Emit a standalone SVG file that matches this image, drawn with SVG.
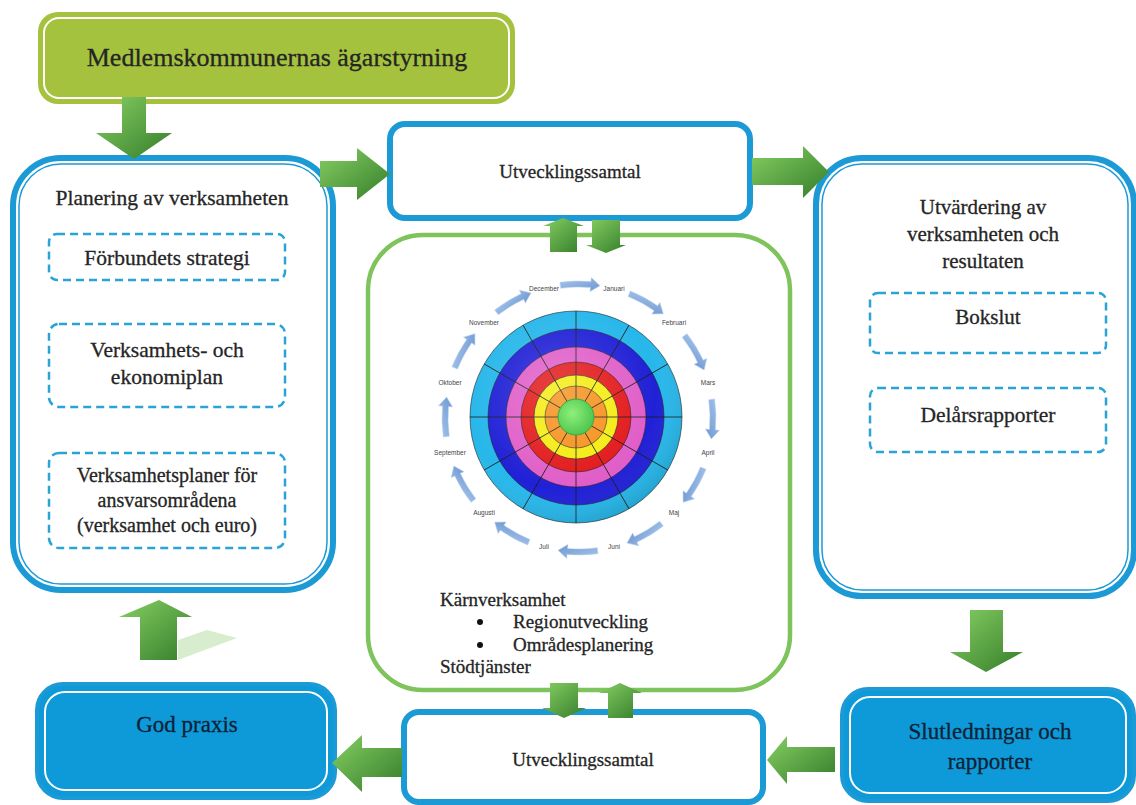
<svg xmlns="http://www.w3.org/2000/svg" width="1136" height="805" viewBox="0 0 1136 805">
<defs>
<linearGradient id="ga" x1="0" y1="0" x2="1" y2="1">
<stop offset="0" stop-color="#86cf63"/>
<stop offset="1" stop-color="#357d2a"/>
</linearGradient>
<linearGradient id="gm" x1="0" y1="0" x2="1" y2="1">
<stop offset="0" stop-color="#a9c6ec"/>
<stop offset="1" stop-color="#6c97d0"/>
</linearGradient>
<radialGradient id="gc" cx="0.4" cy="0.4" r="0.7">
<stop offset="0" stop-color="#8ef07a"/>
<stop offset="1" stop-color="#46c04a"/>
</radialGradient>
<radialGradient id="shade" cx="0.42" cy="0.38" r="0.65">
<stop offset="0" stop-color="#fff" stop-opacity="0.18"/>
<stop offset="0.7" stop-color="#fff" stop-opacity="0"/>
<stop offset="1" stop-color="#000" stop-opacity="0.12"/>
</radialGradient>
<path id="marr" d="M-19.07,-135.67 A137,137 0 0 1 11.94,-136.48 L12.29,-140.46 L20.96,-132.35 L11.07,-126.52 L11.42,-130.5 A131,131 0 0 0 -18.24,-129.73 Z"/>
</defs>
<style>
.t{font-family:"Liberation Serif","DejaVu Serif",serif;fill:#252525;stroke:#252525;stroke-width:0.3;text-anchor:middle}
.tl{font-family:"Liberation Serif","DejaVu Serif",serif;fill:#252525;stroke:#252525;stroke-width:0.3;text-anchor:start}
.nv{fill:#0d2236;stroke:#0d2236}
.m{font-family:"Liberation Sans","DejaVu Sans",sans-serif;font-size:6.5px;fill:#444;text-anchor:middle}
.dash{fill:none;stroke:#2aa3d5;stroke-width:2.5;stroke-dasharray:8 5}
.bo{fill:#fff;stroke:#1b9ad6;stroke-width:6}
.bi{fill:none;stroke:#1b9ad6;stroke-width:1.5}
.bf{fill:#0e9ad8;stroke:#1b9ad6;stroke-width:4}
.bfi{fill:none;stroke:#fff;stroke-width:2}
.arr{fill:url(#ga)}
.ring{stroke:#222;stroke-width:0.6}
</style>
<rect width="1136" height="805" fill="#fff"/>

<g id="top">
<rect x="38" y="12" width="477" height="92" rx="20" fill="#a4c23e"/>
<rect x="44" y="18" width="465" height="80" rx="15" fill="none" stroke="#fff" stroke-width="2"/>
<text class="t" x="277" y="66" font-size="26">Medlemskommunernas ägarstyrning</text>
</g>

<g id="planering">
<rect class="bo" x="13" y="158" width="320" height="432" rx="48"/>
<rect class="bi" x="19" y="164" width="308" height="420" rx="42"/>
<text class="t" x="172" y="205" font-size="21.5">Planering av verksamheten</text>
</g>
<g id="strategi">
<rect class="dash" x="49" y="234" width="236" height="46" rx="8"/>
<text class="t" x="167" y="265" font-size="21.5">Förbundets strategi</text>
</g>
<g id="ekonomiplan">
<rect class="dash" x="49" y="324" width="236" height="83" rx="10"/>
<text class="t" x="167" y="357" font-size="21.5">Verksamhets- och</text>
<text class="t" x="167" y="384" font-size="21.5">ekonomiplan</text>
</g>
<g id="verksamhetsplaner">
<rect class="dash" x="49" y="453" width="236" height="95" rx="10"/>
<text class="t" x="167" y="482" font-size="20">Verksamhetsplaner för</text>
<text class="t" x="167" y="507" font-size="20">ansvarsområdena</text>
<text class="t" x="167" y="532" font-size="20">(verksamhet och euro)</text>
</g>

<g id="utv-top">
<rect class="bo" x="390" y="124" width="360" height="94" rx="15" stroke-width="5"/>
<text class="t" x="570" y="178" font-size="19">Utvecklingssamtal</text>
</g>

<g id="utvardering">
<rect class="bo" x="816" y="158" width="318" height="438" rx="46"/>
<rect class="bi" x="822" y="164" width="306" height="426" rx="40"/>
<text class="t" x="983" y="214" font-size="21">Utvärdering av</text>
<text class="t" x="983" y="241" font-size="21">verksamheten och</text>
<text class="t" x="983" y="268" font-size="21">resultaten</text>
</g>
<g id="bokslut">
<rect class="dash" x="870" y="293" width="236" height="60" rx="8"/>
<text class="t" x="988" y="324" font-size="21">Bokslut</text>
</g>
<g id="delars">
<rect class="dash" x="870" y="388" width="236" height="64" rx="8"/>
<text class="t" x="988" y="422" font-size="21.5">Delårsrapporter</text>
</g>

<g id="karn">
<rect x="368" y="235" width="422" height="455" rx="55" fill="#fff" stroke="#7ec35b" stroke-width="4.5"/>
<g id="wheel">
<circle class="ring" cx="576" cy="417" r="106" fill="#27b7ea"/>
<circle class="ring" cx="576" cy="417" r="88" fill="#2020d6"/>
<circle class="ring" cx="576" cy="417" r="70" fill="#e05ec8"/>
<circle class="ring" cx="576" cy="417" r="55" fill="#e2191b"/>
<circle class="ring" cx="576" cy="417" r="42" fill="#f4ec12"/>
<circle class="ring" cx="576" cy="417" r="31" fill="#f6921e"/>
<g stroke="#1a1a1a" stroke-width="0.8" transform="translate(576,417)">
<line x1="-106" y1="0" x2="106" y2="0"/>
<line x1="-106" y1="0" x2="106" y2="0" transform="rotate(30)"/>
<line x1="-106" y1="0" x2="106" y2="0" transform="rotate(60)"/>
<line x1="-106" y1="0" x2="106" y2="0" transform="rotate(90)"/>
<line x1="-106" y1="0" x2="106" y2="0" transform="rotate(120)"/>
<line x1="-106" y1="0" x2="106" y2="0" transform="rotate(150)"/>
</g>
<circle cx="576" cy="417" r="106" fill="url(#shade)"/>
<circle cx="576" cy="417" r="18" fill="url(#gc)" stroke="#3aa83e" stroke-width="1"/>
</g>
<g id="month-arrows" fill="url(#gm)" stroke="#b9d0ee" stroke-width="0.5" transform="translate(579,418)">
<use href="#marr"/>
<use href="#marr" transform="rotate(30)"/>
<use href="#marr" transform="rotate(60)"/>
<use href="#marr" transform="rotate(90)"/>
<use href="#marr" transform="rotate(120)"/>
<use href="#marr" transform="rotate(150)"/>
<use href="#marr" transform="rotate(180)"/>
<use href="#marr" transform="rotate(210)"/>
<use href="#marr" transform="rotate(240)"/>
<use href="#marr" transform="rotate(270)"/>
<use href="#marr" transform="rotate(300)"/>
<use href="#marr" transform="rotate(330)"/>
</g>
<g id="months">
<text class="m" x="614" y="290.6">Januari</text>
<text class="m" x="674" y="325.2">Februari</text>
<text class="m" x="708" y="385.3">Mars</text>
<text class="m" x="708" y="454.7">April</text>
<text class="m" x="674" y="514.8">Maj</text>
<text class="m" x="614" y="549.4">Juni</text>
<text class="m" x="544" y="549.4">Juli</text>
<text class="m" x="484" y="514.8">Augusti</text>
<text class="m" x="450" y="454.7">September</text>
<text class="m" x="450" y="385.3">Oktober</text>
<text class="m" x="484" y="325.2">November</text>
<text class="m" x="544" y="290.6">December</text>
</g>
<text class="tl" x="440" y="606" font-size="19">Kärnverksamhet</text>
<circle cx="480" cy="622" r="3" fill="#111"/>
<text class="tl" x="513" y="628" font-size="19">Regionutveckling</text>
<circle cx="480" cy="645" r="3" fill="#111"/>
<text class="tl" x="513" y="651" font-size="19">Områdesplanering</text>
<text class="tl" x="440" y="673" font-size="19">Stödtjänster</text>
</g>

<g id="utv-bottom">
<rect class="bo" x="404" y="712" width="359" height="90" rx="15" stroke-width="5"/>
<text class="t" x="583" y="766" font-size="19">Utvecklingssamtal</text>
</g>

<g id="godpraxis">
<rect class="bf" x="37" y="684" width="298" height="114" rx="26"/>
<rect class="bfi" x="45" y="692" width="282" height="98" rx="20"/>
<text class="t nv" x="187" y="732" font-size="23">God praxis</text>
</g>

<g id="slutledningar">
<rect class="bf" x="842" y="689" width="292" height="112" rx="26"/>
<rect class="bfi" x="850" y="697" width="276" height="96" rx="20"/>
<text class="t nv" x="990" y="739" font-size="23">Slutledningar och</text>
<text class="t nv" x="990" y="769" font-size="23">rapporter</text>
</g>

<g id="connectors">
<path class="arr" d="M122,97 H146 V133 H172 L134,159 L96,133 H122 Z"/>
<path class="arr" d="M320,161 H357 V148 L390,174 L357,200 V187 H320 Z"/>
<path class="arr" d="M752,158 H803 V146 L829,172 L803,198 V185 H752 Z"/>
<path class="arr" d="M550,252 V226 H543 L563,218 L584,226 H577 V252 Z"/>
<path class="arr" d="M592,220 H620 V245 H626 L606,253 L586,245 H592 Z"/>
<path class="arr" d="M550,683 H578 V708 H586 L564,718 L542,708 H550 Z"/>
<path class="arr" d="M608,718 V693 H599 L620,683 L642,693 H633 V718 Z"/>
<path class="arr" d="M970,610 H1003 V652 H1023 L986,672 L950,652 H970 Z"/>
<path class="arr" d="M835,747 V772 H787 V784 L767,760 L787,736 V747 Z"/>
<path class="arr" d="M402,748 V777 H362 V792 L332,763 L362,735 V748 Z"/>
<path d="M178,660 L237,638 L207,630 L178,640 Z" fill="#a6d890" opacity="0.45"/>
<path class="arr" d="M140,660 V617 H119 L159,600 L192,617 H177 V660 Z"/>
</g>
</svg>
